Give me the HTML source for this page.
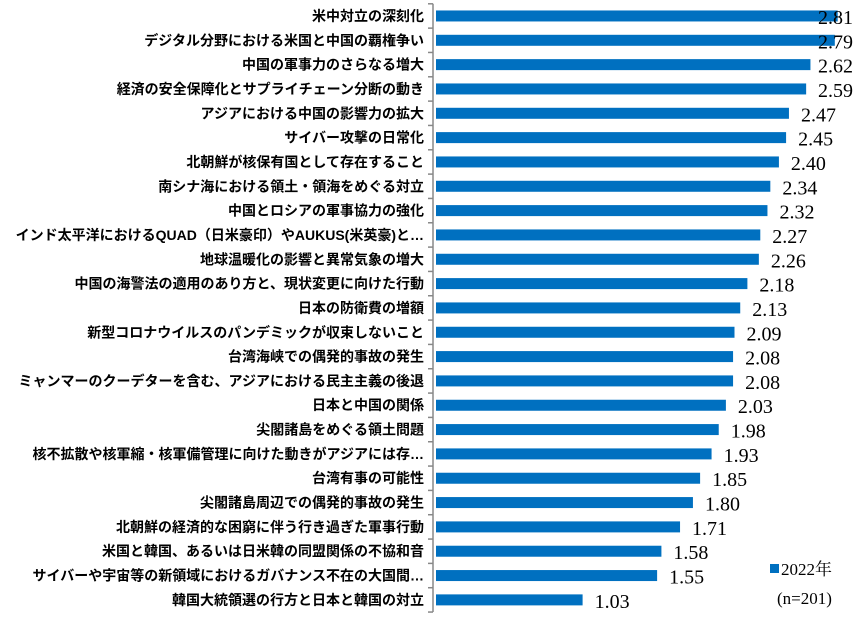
<!DOCTYPE html>
<html><head><meta charset="utf-8"><style>
body{margin:0;background:#fff;}
svg{display:block;}
.cat{font-family:"Liberation Sans","Noto Sans CJK JP",sans-serif;font-size:14px;font-weight:bold;fill:#000;}
.val{font-family:"Liberation Serif","Noto Serif CJK SC",serif;font-size:20px;fill:#000;}
.leg{font-family:"Liberation Serif","Noto Serif CJK SC",serif;font-size:17px;fill:#000;}
</style></head><body>
<svg id="chart" width="860" height="617"></svg>
<script>
const categories=["米中対立の深刻化","デジタル分野における米国と中国の覇権争い","中国の軍事力のさらなる増大","経済の安全保障化とサプライチェーン分断の動き","アジアにおける中国の影響力の拡大","サイバー攻撃の日常化","北朝鮮が核保有国として存在すること","南シナ海における領土・領海をめぐる対立","中国とロシアの軍事協力の強化","インド太平洋におけるQUAD（日米豪印）やAUKUS(米英豪)と…","地球温暖化の影響と異常気象の増大","中国の海警法の適用のあり方と、現状変更に向けた行動","日本の防衛費の増額","新型コロナウイルスのパンデミックが収束しないこと","台湾海峡での偶発的事故の発生","ミャンマーのクーデターを含む、アジアにおける民主主義の後退","日本と中国の関係","尖閣諸島をめぐる領土問題","核不拡散や核軍縮・核軍備管理に向けた動きがアジアには存…","台湾有事の可能性","尖閣諸島周辺での偶発的事故の発生","北朝鮮の経済的な困窮に伴う行き過ぎた軍事行動","米国と韓国、あるいは日米韓の同盟関係の不協和音","サイバーや宇宙等の新領域におけるガバナンス不在の大国間…","韓国大統領選の行方と日本と韓国の対立"];
const values=[2.81,2.79,2.62,2.59,2.47,2.45,2.40,2.34,2.32,2.27,2.26,2.18,2.13,2.09,2.08,2.08,2.03,1.98,1.93,1.85,1.80,1.71,1.58,1.55,1.03];
const valueLabels=["2.81","2.79","2.62","2.59","2.47","2.45","2.40","2.34","2.32","2.27","2.26","2.18","2.13","2.09","2.08","2.08","2.03","1.98","1.93","1.85","1.80","1.71","1.58","1.55","1.03"];
const NS="http://www.w3.org/2000/svg";
const svg=document.getElementById('chart');
const x0=435,scale=143.3,top0=3.8,step=24.33;
const xs=v=>x0+v*scale;
const yc=i=>top0+step*(i+0.5);
function mk(t,a){const e=document.createElementNS(NS,t);for(const k in a)e.setAttribute(k,a[k]);svg.appendChild(e);return e;}
const ax=mk('line',{x1:433,x2:433,y1:top0,y2:top0+step*categories.length,stroke:'#888','stroke-width':1.5});


for(let i=0;i<=categories.length;i++){
  const t=mk('line',{x1:428,x2:433,y1:top0+step*i,y2:top0+step*i,stroke:'#888','stroke-width':1.5});
  
  
}
categories.forEach((c,i)=>{
  const y=yc(i);
  const l=mk('text',{x:424,y:y+5,'text-anchor':'end',class:'cat'});l.textContent=c;
  
  
  const end=xs(values[i]);
  const b=mk('rect',{x:436,y:y-5.5,width:end-436,height:11,fill:'#0070c0'});
  
  
  const v=mk('text',{x:Math.min(end+12,818),y:y+8,class:'val'});v.textContent=valueLabels[i];
  
  
});
const ls=mk('rect',{x:770,y:564,width:9,height:9,fill:'#0070c0'});


const lt=mk('text',{x:781,y:575,class:'leg'});lt.textContent='2022年';


const ln=mk('text',{x:777,y:604,class:'leg'});ln.textContent='(n=201)';


</script>
</body></html>
